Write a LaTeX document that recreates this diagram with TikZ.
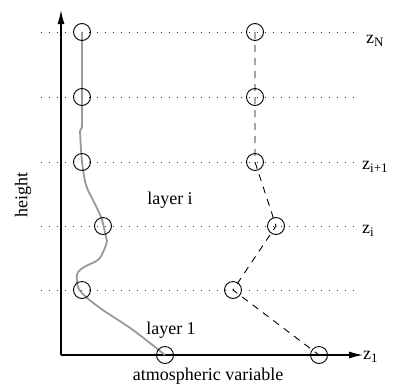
\documentclass[tikz,border=0pt]{standalone}
\usepackage{fontspec}
\setmainfont{Liberation Serif}
\usetikzlibrary{arrows.meta}
\newcommand{\zsub}[1]{z\raisebox{-0.45ex}{\fontsize{13}{13}\selectfont #1}}
\tikzset{
  lbl/.style={font=\fontsize{18}{20}\selectfont, inner sep=0pt},
  level/.style={line width=1pt, dash pattern=on 1pt off 7pt, black!80},
  axis/.style={line width=1.2pt, -{Latex[length=14pt,width=7pt]}},
  pt/.style={circle, draw, line width=0.9pt, minimum size=17pt, inner sep=0pt},
  prof/.style={line width=1.8pt, gray!80},
  dsh/.style={line width=0.9pt, dash pattern=on 7pt off 6pt}
}
\begin{document}
\begin{tikzpicture}[x=1pt,y=-1pt]
\useasboundingbox (0,0) rectangle (395,383);
% level lines
\foreach \y/\n in {32/N,97/a,162/b,226/c,290/d}{
  \coordinate (L\n) at (41,\y);
  \coordinate (R\n) at (361,\y);
  \draw[level] (L\n) -- (R\n);
}
% axes
\coordinate (O) at (61,355);
\coordinate (Y) at (61,10);
\coordinate (X) at (363,355);
\draw[axis] (O) -- (Y);
\draw[axis] (O) -- (X);
% gray profile
\draw[prof] (82,32) -- (82,127) -- (80,131)
  plot[smooth, tension=0.6] coordinates {(80,131) (81,150) (82,162) (86,185) (94,202) (101,217) (104,228) (107,241)}
  -- (106,245)
  plot[smooth, tension=0.6] coordinates {(106,245) (99,259) (86,266) (78,272) (77,282) (81,292) (100,308) (133,330) (165,355)};
% left circles
\node[pt] (a1) at (82,32) {};
\node[pt] (a2) at (82,97) {};
\node[pt] (a3) at (82,162) {};
\node[pt] (a4) at (103,226) {};
\node[pt] (a5) at (82,290) {};
\node[pt] (a6) at (165,355) {};
% right circles
\node[pt] (b1) at (255,32) {};
\node[pt] (b2) at (255,97) {};
\node[pt] (b3) at (255,162) {};
\node[pt] (b4) at (276,226) {};
\node[pt] (b5) at (233,290) {};
\node[pt] (b6) at (319,355) {};
\draw[dsh] (b1.center) -- (b2.center) -- (b3.center) -- (b4.center) -- (b5.center) -- (b6.center);
% labels
\node[lbl, anchor=west] (zN) at (366,41) {\zsub{N}};
\node[lbl, anchor=west] (zi1) at (362,167) {\zsub{i+1}};
\node[lbl, anchor=west] (zi) at (362,231) {\zsub{i}};
\node[lbl, anchor=west] (z1) at (363,357) {\zsub{1}};
\node[lbl, rotate=90] (h) at (23,195) {height};
\node[lbl] (li) at (170,200) {layer i};
\node[lbl] (l1) at (171,330) {layer 1};
\node[lbl] (av) at (208,376) {atmospheric variable};
\end{tikzpicture}
\end{document}
